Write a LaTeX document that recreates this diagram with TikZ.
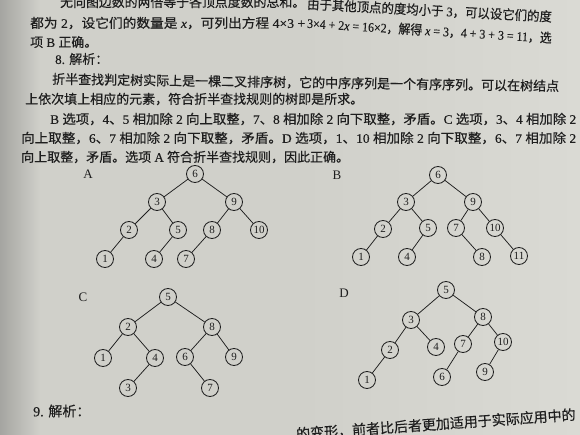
\documentclass[tikz,border=0pt]{standalone}
\usepackage{fontspec}
\usepackage{graphicx}
\setmainfont{Liberation Serif}
\newfontfamily\cjk[FakeBold=0.4]{Noto Sans CJK SC}
\newfontfamily\latf[FakeBold=0.3]{Liberation Serif}
\newcommand\latn[1]{{\latf #1}}
\newcommand\fitw[2]{\resizebox{#1}{\height}{#2}}
\definecolor{paper}{RGB}{208,208,202}
\definecolor{paperL}{RGB}{218,218,212}
\definecolor{paperD}{RGB}{165,165,161}
\definecolor{ink}{RGB}{30,30,30}
\tikzset{
  tn/.style={circle,draw=ink,line width=0.85pt,minimum size=17pt,inner sep=0pt,text=ink,font=\fontsize{11}{11}\selectfont},
  tl/.style={anchor=west,inner sep=0pt,text=ink,font=\fontsize{13}{13}\selectfont\cjk},
  lab/.style={inner sep=0pt,text=ink,font=\fontsize{13}{13}\selectfont},
  edge/.style={draw=ink,line width=0.75pt}
}
\begin{document}
\begin{tikzpicture}[x=1pt,y=-1pt]
\useasboundingbox (0,0) rectangle (580,435);
\begin{scope}
\clip (0,0) rectangle (580,435);
\fill[paper] (0,0) rectangle (580,435);
\shade[left color=paper,right color=paperL] (300,0) rectangle (580,435);
\shade[left color=paperD,right color=paper] (0,0) rectangle (40,435);

% text lines
\node[tl] (t0a) at (60,2) {\fitw{245pt}{无向图边数的两倍等于各顶点度数的总和。}};
\node[tl,rotate=-3] (t0b) at (307,4) {\fitw{245pt}{由于其他顶点的度均小于\latn{ 3}，可以设它们的度}};
\node[tl] (t1a) at (30,23) {\fitw{275pt}{都为\latn{ 2}，设它们的数量是\latn{ \textit{x}}，可列出方程\latn{ 4×3 +}}};
\node[tl,rotate=-3.5] (t1b) at (307,23) {\fitw{245pt}{\latn{3×4 + 2\textit{x} = 16×2}，解得\latn{ \textit{x} = 3}，\latn{4 + 3 + 3 = 11}，选}};
\node[tl] (t2) at (30,42) {项\latn{ B }正确。};
\node[tl] (t3) at (55,59) {\latn{8. }解析：};
\node[tl,rotate=-0.8] (t4) at (52,79) {\fitw{507pt}{折半查找判定树实际上是一棵二叉排序树，它的中序序列是一个有序序列。可以在树结点}};
\node[tl] (t5) at (25,99) {上依次填上相应的元素，符合折半查找规则的树即是所求。};
\node[tl] (t6) at (50,119) {\fitw{526pt}{\latn{B }选项，\latn{4}、\latn{5 }相加除\latn{ 2 }向上取整，\latn{7}、\latn{8 }相加除\latn{ 2 }向下取整，矛盾。\latn{C }选项，\latn{3}、\latn{4 }相加除\latn{ 2}}};
\node[tl] (t7) at (21,138) {\fitw{555pt}{向上取整，\latn{6}、\latn{7 }相加除\latn{ 2 }向下取整，矛盾。\latn{D }选项，\latn{1}、\latn{10 }相加除\latn{ 2 }向下取整，\latn{6}、\latn{7 }相加除\latn{ 2}}};
\node[tl] (t8) at (21,157) {向上取整，矛盾。选项\latn{ A }符合折半查找规则，因此正确。};
\node[tl,font=\fontsize{14}{14}\selectfont\cjk] (t9) at (33,411) {\latn{9. }解析：};
\node[tl,rotate=4,font=\fontsize{14}{14}\selectfont\cjk] (t10) at (296,434) {的变形，前者比后者更加适用于实际应用中的};

% Tree A
\node[lab] (la) at (88,174) {A};
\node[tn] (a6) at (195,174) {6};
\node[tn] (a3) at (157,202) {3};
\node[tn] (a9) at (234,202) {9};
\node[tn] (a2) at (129,230) {2};
\node[tn] (a5) at (178,230) {5};
\node[tn] (a8) at (212,230) {8};
\node[tn] (a10) at (259,230) {10};
\node[tn] (a1) at (105,259) {1};
\node[tn] (a4) at (154,259) {4};
\node[tn] (a7) at (186,259) {7};
\draw[edge] (a6)--(a3); \draw[edge] (a6)--(a9);
\draw[edge] (a3)--(a2); \draw[edge] (a3)--(a5);
\draw[edge] (a2)--(a1); \draw[edge] (a5)--(a4);
\draw[edge] (a9)--(a8); \draw[edge] (a9)--(a10);
\draw[edge] (a8)--(a7);

% Tree B
\node[lab] (lb) at (337,175) {B};
\node[tn] (b6) at (438,175) {6};
\node[tn] (b3) at (406,202) {3};
\node[tn] (b9) at (473,202) {9};
\node[tn] (b2) at (383,229) {2};
\node[tn] (b5) at (428,228) {5};
\node[tn] (b7) at (456,228) {7};
\node[tn] (b10) at (495,228) {10};
\node[tn] (b1) at (361,257) {1};
\node[tn] (b4) at (407,257) {4};
\node[tn] (b8) at (482,257) {8};
\node[tn] (b11) at (519,256) {11};
\draw[edge] (b6)--(b3); \draw[edge] (b6)--(b9);
\draw[edge] (b3)--(b2); \draw[edge] (b3)--(b5);
\draw[edge] (b2)--(b1); \draw[edge] (b5)--(b4);
\draw[edge] (b9)--(b7); \draw[edge] (b9)--(b10);
\draw[edge] (b7)--(b8); \draw[edge] (b10)--(b11);

% Tree C
\node[lab] (lc) at (83,297) {C};
\node[tn] (c5) at (168,297) {5};
\node[tn] (c2) at (128,327) {2};
\node[tn] (c8) at (212,327) {8};
\node[tn] (c1) at (103,358) {1};
\node[tn] (c4) at (155,358) {4};
\node[tn] (c6) at (185,357) {6};
\node[tn] (c9) at (234,357) {9};
\node[tn] (c3) at (128,388) {3};
\node[tn] (c7) at (210,388) {7};
\draw[edge] (c5)--(c2); \draw[edge] (c5)--(c8);
\draw[edge] (c2)--(c1); \draw[edge] (c2)--(c4);
\draw[edge] (c4)--(c3);
\draw[edge] (c8)--(c6); \draw[edge] (c8)--(c9);
\draw[edge] (c6)--(c7);

% Tree D
\node[lab] (ld) at (344,293) {D};
\node[tn] (d5) at (446,290) {5};
\node[tn] (d3) at (411,320) {3};
\node[tn] (d8) at (483,317) {8};
\node[tn] (d2) at (390,350) {2};
\node[tn] (d4) at (436,347) {4};
\node[tn] (d7) at (463,344) {7};
\node[tn] (d10) at (503,342) {10};
\node[tn] (d1) at (367,380) {1};
\node[tn] (d6) at (442,377) {6};
\node[tn] (d9) at (485,372) {9};
\draw[edge] (d5)--(d3); \draw[edge] (d5)--(d8);
\draw[edge] (d3)--(d2); \draw[edge] (d3)--(d4);
\draw[edge] (d2)--(d1);
\draw[edge] (d8)--(d7); \draw[edge] (d8)--(d10);
\draw[edge] (d7)--(d6); \draw[edge] (d10)--(d9);
\end{scope}
\end{tikzpicture}
\end{document}
